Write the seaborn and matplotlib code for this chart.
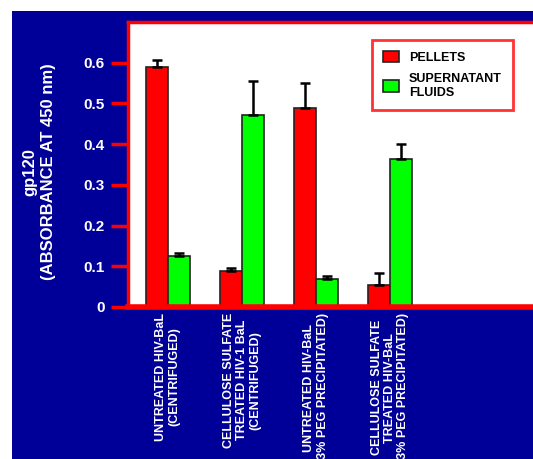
import pandas as pd
import seaborn as sns
import matplotlib.pyplot as plt
from matplotlib.patches import Rectangle

# values
groups = ['UNTREATED HIV-BaL\n(CENTRIFUGED)',
          'CELLULOSE SULFATE\nTREATED HIV-1 BaL\n(CENTRIFUGED)',
          'UNTREATED HIV-BaL\n(3% PEG PRECIPITATED)',
          'CELLULOSE SULFATE\nTREATED HIV-BaL\n(3% PEG PRECIPITATED)']
fractions = ['PELLETS', 'SUPERNATANT\nFLUIDS']
pellets = [0.590, 0.089, 0.489, 0.054]
pellets_err = [0.017, 0.007, 0.062, 0.030]
supernatant = [0.125, 0.472, 0.069, 0.364]
supernatant_err = [0.008, 0.084, 0.007, 0.037]

df = pd.DataFrame({
    'group': groups * 2,
    'fraction': [fractions[0]] * 4 + [fractions[1]] * 4,
    'value': pellets + supernatant,
})
errs = [pellets_err, supernatant_err]

plt.rcParams['font.family'] = ['Liberation Sans', 'DejaVu Sans']
plt.rcParams['font.weight'] = 'bold'

W, H = 533, 459
fig = plt.figure(figsize=(W / 100, H / 100), dpi=100)
fig.patch.set_facecolor('white')
fig.patches.append(Rectangle((12 / W, 0), 1, (H - 11) / H, transform=fig.transFigure,
                             facecolor='#000099', edgecolor='none', zorder=-10))

ax = fig.add_axes([128 / W, (H - 307) / H, (W - 128) / W, (307 - 22) / H])
ax.set_facecolor('white')

sns.barplot(data=df, x='group', y='value', hue='fraction', order=groups,
            hue_order=fractions, palette=['#ff0000', '#00ff00'], saturation=1,
            width=0.6, edgecolor='#222222', linewidth=1.2, errorbar=None, ax=ax)

for cont, err in zip(ax.containers, errs):
    xs = [p.get_x() + p.get_width() / 2 for p in cont]
    ys = [p.get_height() for p in cont]
    ax.errorbar(xs, ys, yerr=[[0] * len(err), err], fmt='none', ecolor='black',
                elinewidth=1.8, capsize=3.5, capthick=1.8, zorder=1)

ax.set_ylim(0, 0.7)
ax.set_xlim(-0.54, (W - 128) / 74 - 0.54)
ax.set_yticks([0, 0.1, 0.2, 0.3, 0.4, 0.5, 0.6])
ax.set_yticklabels(['0', '0.1', '0.2', '0.3', '0.4', '0.5', '0.6'],
                   fontweight='bold')
ax.tick_params(axis='y', colors='red', length=12, width=2.5, labelcolor='white',
               labelsize=11, pad=5)
ax.set_xticks(range(len(groups)))
ax.set_xticklabels(groups, rotation=90, ha='center', va='top', fontweight='bold',
                   linespacing=1.15)
ax.tick_params(axis='x', length=0, labelcolor='white', labelsize=9, pad=4)

ax.set_xlabel('')
ax.set_ylabel('gp120\n(ABSORBANCE AT 450 nm)', color='white', fontsize=12,
              fontweight='bold', linespacing=1.3)
ax.yaxis.set_label_coords(-0.178, 0.474)

for side in ['left', 'top']:
    ax.spines[side].set_color('red')
    ax.spines[side].set_linewidth(2.5)
ax.spines['bottom'].set_color('red')
ax.spines['bottom'].set_linewidth(4)
ax.spines['right'].set_visible(False)

leg = ax.legend(loc='upper right', bbox_to_anchor=(0.951, 0.937), borderaxespad=0,
                frameon=True, fancybox=False, edgecolor='red',
                prop={'size': 9, 'weight': 'bold'}, handlelength=1.3,
                handleheight=1.0, borderpad=0.9, labelspacing=0.7,
                handletextpad=0.8)
leg.get_frame().set_linewidth(2)

fig.savefig('out.png', dpi=100)
